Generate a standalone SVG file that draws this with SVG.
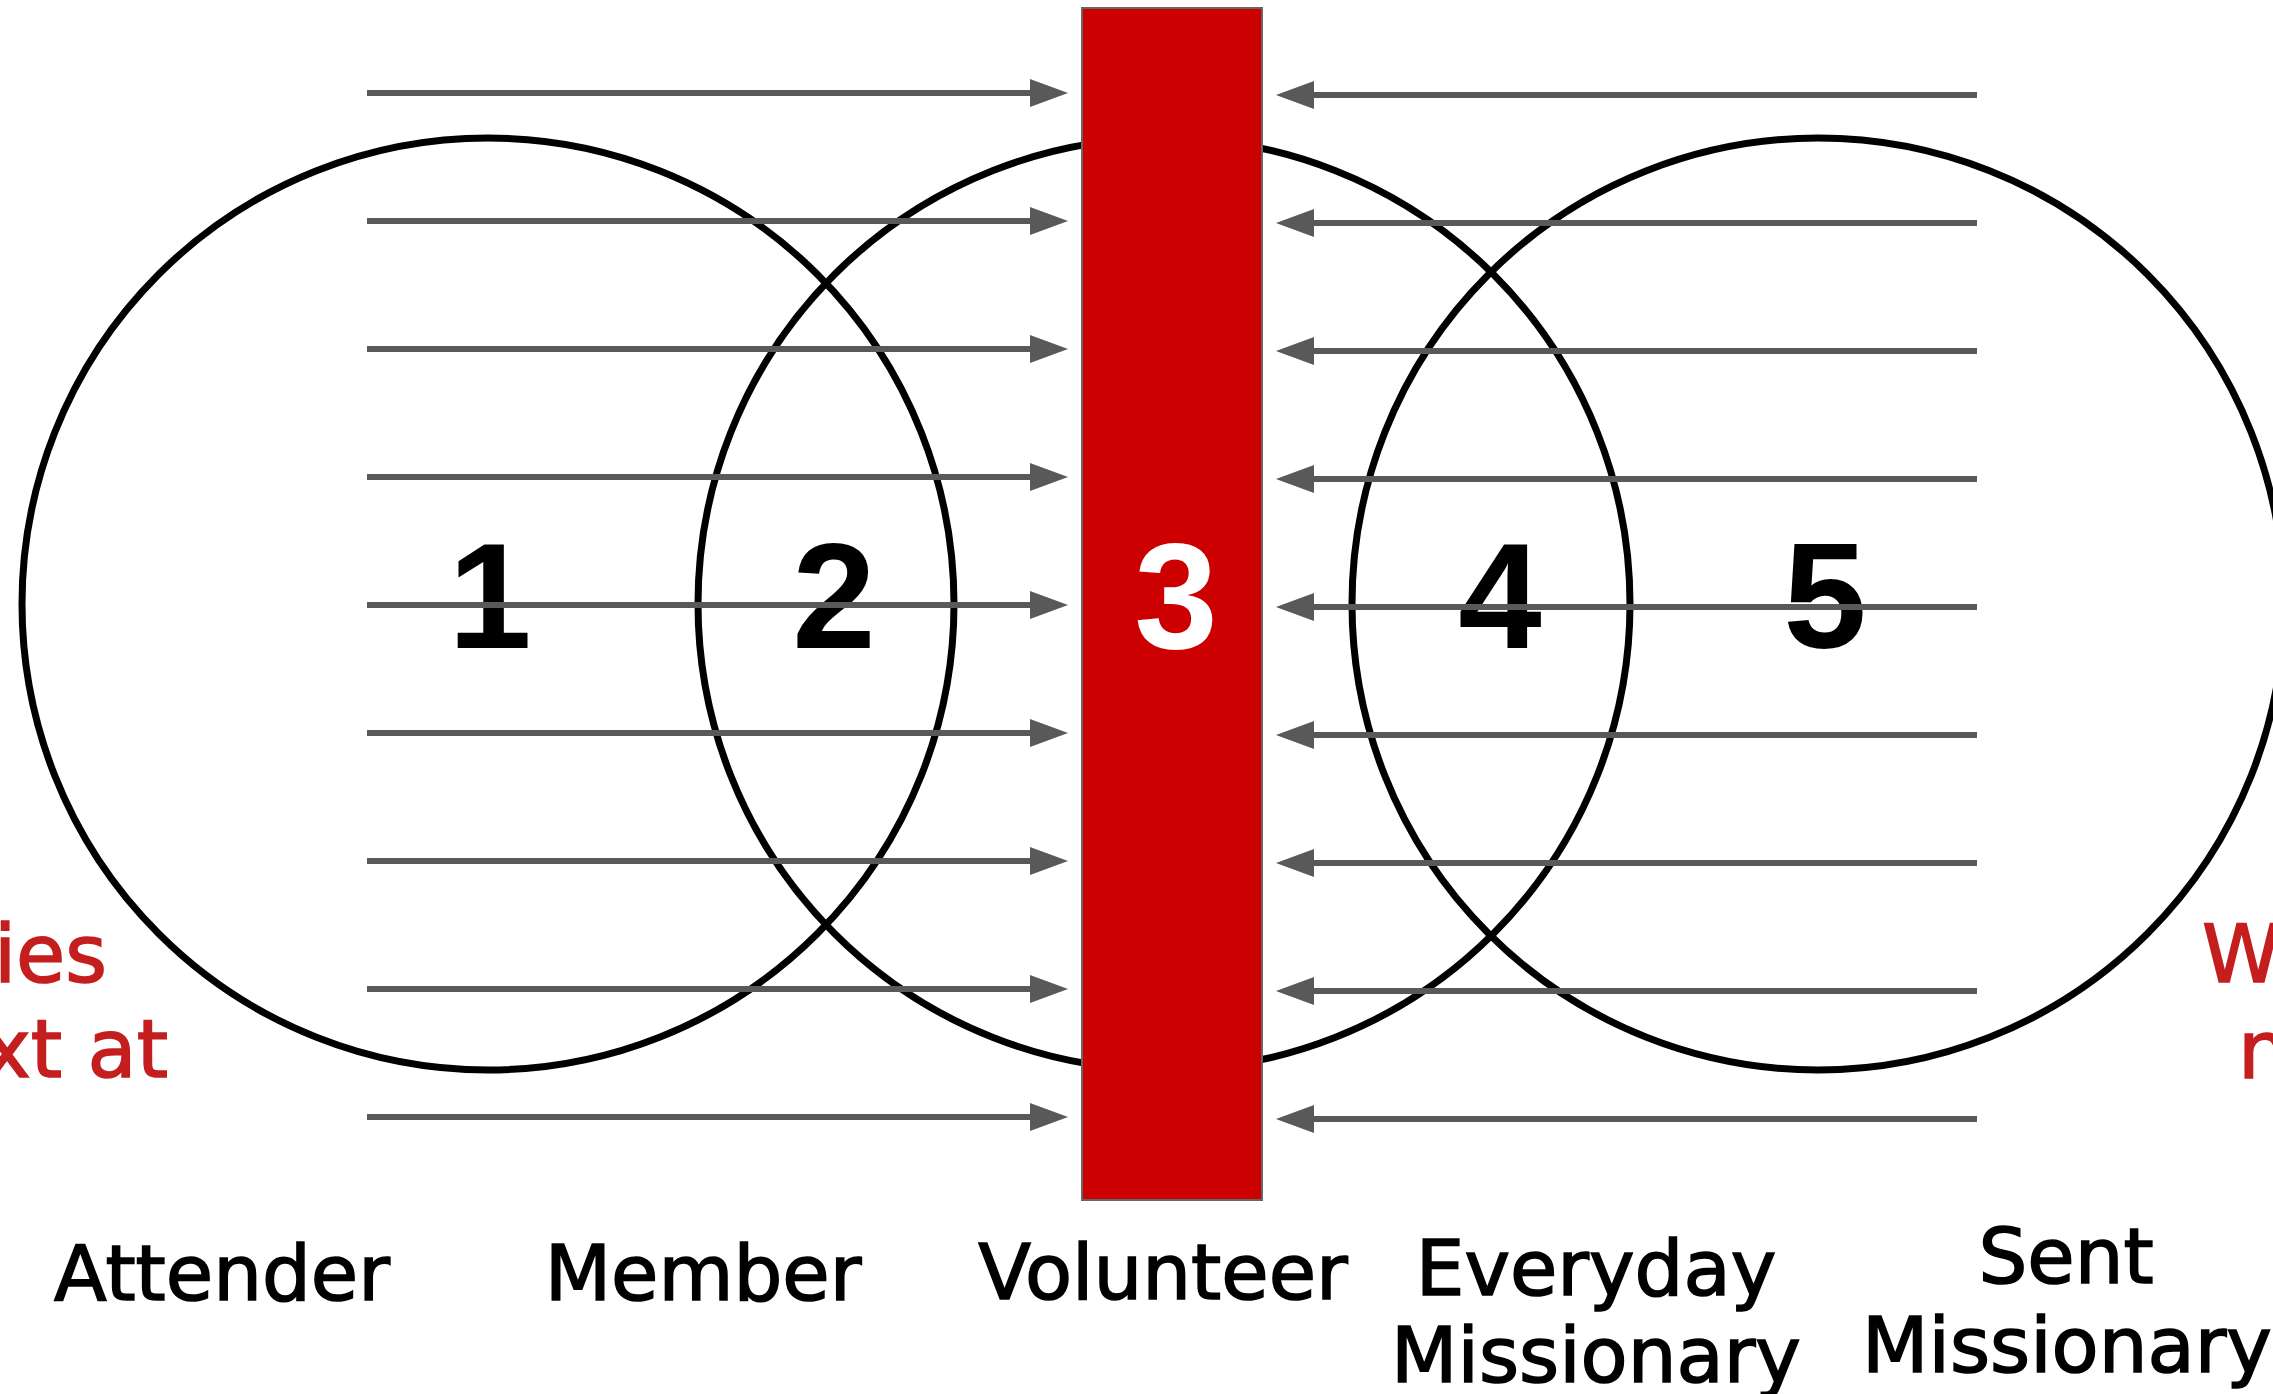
<svg xmlns="http://www.w3.org/2000/svg" width="2273" height="1394" viewBox="0 0 2273 1394">
<style>
.circ{fill:none;stroke:#000;stroke-width:7}
.num{font-family:"Liberation Sans",Arial,sans-serif;font-weight:bold;font-size:150px;text-anchor:middle}
.lbl{font-family:"DejaVu Sans",sans-serif;font-size:77px;fill:#000;stroke:#000;stroke-width:1.6;text-anchor:middle}
.red{font-family:"DejaVu Sans",sans-serif;font-size:80px;fill:#c41e1e;stroke:#c41e1e;stroke-width:1.6}
.arr{stroke:#595959;stroke-width:6;fill:none;marker-end:url(#ah)}
</style>
<defs>
<marker id="ah" markerUnits="userSpaceOnUse" markerWidth="40" markerHeight="30" refX="0" refY="14" orient="auto">
<path d="M0,0 L38,14 L0,28 z" fill="#595959"/>
</marker>
</defs>
<rect width="2273" height="1394" fill="#fff"/>
<g id="circle-attender"><circle class="circ" cx="488" cy="604" r="466"/></g>
<g id="circle-middle"><circle class="circ" cx="1164" cy="604" r="466"/></g>
<g id="circle-sent"><circle class="circ" cx="1818" cy="604" r="466"/></g>
<g id="num-1"><text class="num" x="490" y="648">1</text></g>
<g id="num-2"><text class="num" x="834" y="648">2</text></g>
<g id="num-4"><text class="num" x="1500" y="648">4</text></g>
<g id="num-5"><text class="num" x="1825" y="648">5</text></g>
<g id="volunteer-bar">
<rect x="1082" y="8" width="180" height="1192" fill="#cc0000" stroke="#666" stroke-width="2"/>
<text class="num" x="1176" y="648" fill="#fff">3</text>
</g>
<g id="connectors">
<line class="arr" x1="367" y1="93" x2="1030" y2="93"/>
<line class="arr" x1="367" y1="221" x2="1030" y2="221"/>
<line class="arr" x1="367" y1="349" x2="1030" y2="349"/>
<line class="arr" x1="367" y1="477" x2="1030" y2="477"/>
<line class="arr" x1="367" y1="605" x2="1030" y2="605"/>
<line class="arr" x1="367" y1="733" x2="1030" y2="733"/>
<line class="arr" x1="367" y1="861" x2="1030" y2="861"/>
<line class="arr" x1="367" y1="989" x2="1030" y2="989"/>
<line class="arr" x1="367" y1="1117" x2="1030" y2="1117"/>
<line class="arr" x1="1977" y1="95" x2="1314" y2="95"/>
<line class="arr" x1="1977" y1="223" x2="1314" y2="223"/>
<line class="arr" x1="1977" y1="351" x2="1314" y2="351"/>
<line class="arr" x1="1977" y1="479" x2="1314" y2="479"/>
<line class="arr" x1="1977" y1="607" x2="1314" y2="607"/>
<line class="arr" x1="1977" y1="735" x2="1314" y2="735"/>
<line class="arr" x1="1977" y1="863" x2="1314" y2="863"/>
<line class="arr" x1="1977" y1="991" x2="1314" y2="991"/>
<line class="arr" x1="1977" y1="1119" x2="1314" y2="1119"/>
</g>
<g id="labels">
<text class="lbl" x="222" y="1300">Attender</text>
<text class="lbl" x="703" y="1300">Member</text>
<text class="lbl" x="1163" y="1299">Volunteer</text>
<text class="lbl" x="1596" y="1295">Everyday</text>
<text class="lbl" x="1596" y="1382">Missionary</text>
<text class="lbl" x="2066" y="1283">Sent</text>
<text class="lbl" x="2067" y="1372">Missionary</text>
</g>
<g id="side-notes">
<text class="red" x="107" y="982" text-anchor="end">ies</text>
<text class="red" x="168" y="1077" text-anchor="end">xt at</text>
<text class="red" x="2202" y="982">W</text>
<text class="red" x="2238" y="1078">n</text>
</g>
</svg>
